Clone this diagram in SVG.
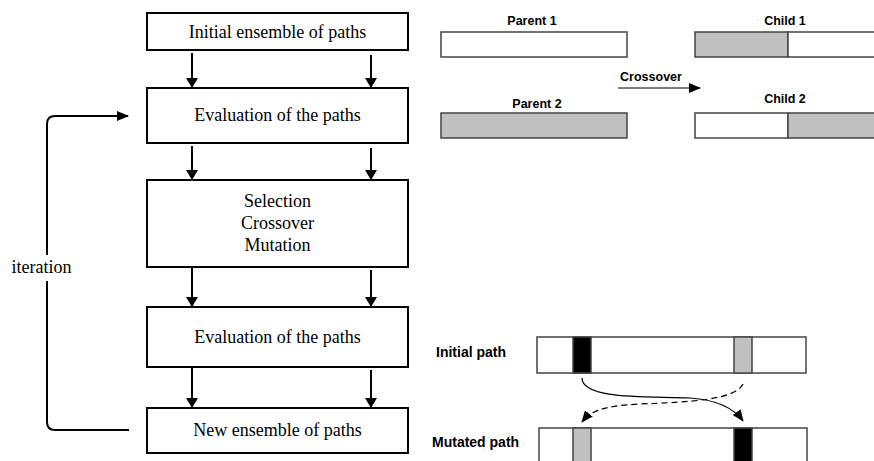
<svg xmlns="http://www.w3.org/2000/svg" width="874" height="461" viewBox="0 0 874 461">
<style>
.box{fill:#fff;stroke:#000;stroke-width:2}
.t{font-family:"Liberation Serif",serif;font-size:18px;fill:#000;text-anchor:middle}
.lab{font-family:"Liberation Sans",sans-serif;font-weight:bold;font-size:12.5px;fill:#000;text-anchor:middle}
.lab2{font-family:"Liberation Sans",sans-serif;font-weight:bold;font-size:14px;fill:#000}
.bar{stroke:#444;stroke-width:1.5}
.w{fill:#fff}
.g{fill:#c0c0c0}
.k{fill:#000}
.c{fill:none;stroke:#000;stroke-width:2}
.thin{fill:none;stroke:#000;stroke-width:1.2}
</style>
<defs>
<marker id="ah" markerWidth="10" markerHeight="12" refX="9" refY="6" orient="auto" markerUnits="userSpaceOnUse">
<path d="M0,0 L10,6 L0,12 Z" fill="#000"/>
</marker>
<marker id="ahs" markerWidth="12" markerHeight="10" refX="11" refY="5" orient="auto" markerUnits="userSpaceOnUse">
<path d="M0,0 L12,5 L0,10 Z" fill="#000"/>
</marker>
<marker id="ahc" markerWidth="12" markerHeight="10" refX="11" refY="5" orient="auto" markerUnits="userSpaceOnUse">
<path d="M0,0 L12,5 L0,10 Z" fill="#000"/>
</marker>
</defs>

<g id="n1"><rect class="box" x="147" y="13" width="261" height="37"/><text class="t" x="277.5" y="38">Initial ensemble of paths</text></g>
<g id="n2"><rect class="box" x="147" y="88" width="261" height="55"/><text class="t" x="277.5" y="121">Evaluation of the paths</text></g>
<g id="n3"><rect class="box" x="147" y="180" width="261" height="87"/><text class="t" x="277.5" y="207">Selection</text><text class="t" x="277.5" y="229">Crossover</text><text class="t" x="277.5" y="251">Mutation</text></g>
<g id="n4"><rect class="box" x="147" y="307" width="261" height="60"/><text class="t" x="277.5" y="343">Evaluation of the paths</text></g>
<g id="n5"><rect class="box" x="147" y="408" width="261" height="45"/><text class="t" x="277.5" y="436">New ensemble of paths</text></g>

<g id="connectors">
<line class="c" x1="192" y1="53" x2="192" y2="87" marker-end="url(#ah)"/>
<line class="c" x1="371" y1="55" x2="371" y2="87" marker-end="url(#ah)"/>
<line class="c" x1="192" y1="146" x2="192" y2="179" marker-end="url(#ah)"/>
<line class="c" x1="371" y1="148" x2="371" y2="179" marker-end="url(#ah)"/>
<line class="c" x1="192" y1="268" x2="192" y2="306" marker-end="url(#ah)"/>
<line class="c" x1="371" y1="270" x2="371" y2="306" marker-end="url(#ah)"/>
<line class="c" x1="192" y1="368" x2="192" y2="407" marker-end="url(#ah)"/>
<line class="c" x1="371" y1="370" x2="371" y2="407" marker-end="url(#ah)"/>
<path class="c" d="M129,430 H55 Q47,430 47,422 V281"/>
<path class="c" d="M47,255 V124 Q47,116 55,116 H128" marker-end="url(#ahs)"/>
<line x1="618" y1="88" x2="700" y2="88" stroke="#000" stroke-width="1.2" marker-end="url(#ahc)"/>
<path class="thin" d="M582,378 C582,400 650,396 690,398 C720,400 735,410 743,421" marker-end="url(#ahc)"/>
<path class="thin" stroke-dasharray="6,4" d="M743,384 C735,400 690,402 640,404 C600,406 590,412 582,422" marker-end="url(#ahc)"/>
</g>
<text class="t" x="41.5" y="273">iteration</text>

<g id="parent1"><text class="lab" x="532" y="25">Parent 1</text><rect class="bar w" x="441" y="32" width="186" height="25"/></g>
<g id="parent2"><text class="lab" x="537" y="108">Parent 2</text><rect class="bar g" x="441" y="113" width="186" height="25"/></g>
<g id="child1"><text class="lab" x="785" y="25">Child 1</text><rect class="bar g" x="695" y="32" width="93" height="25"/><rect class="bar w" x="788" y="32" width="100" height="25"/></g>
<g id="child2"><text class="lab" x="785" y="103">Child 2</text><rect class="bar w" x="695" y="113" width="93" height="25"/><rect class="bar g" x="788" y="113" width="100" height="25"/></g>
<text class="lab" x="651" y="81">Crossover</text>

<g id="initial"><text class="lab2" x="436" y="357">Initial path</text>
<rect class="bar w" x="537" y="337" width="269" height="36"/>
<rect class="bar k" x="573" y="337" width="18" height="36"/>
<rect class="bar g" x="734" y="337" width="18" height="36"/></g>
<g id="mutated"><text class="lab2" x="432" y="447">Mutated path</text>
<rect class="bar w" x="539" y="428" width="268" height="40"/>
<rect class="bar g" x="573" y="428" width="18" height="40"/>
<rect class="bar k" x="734" y="428" width="18" height="40"/></g>
</svg>
